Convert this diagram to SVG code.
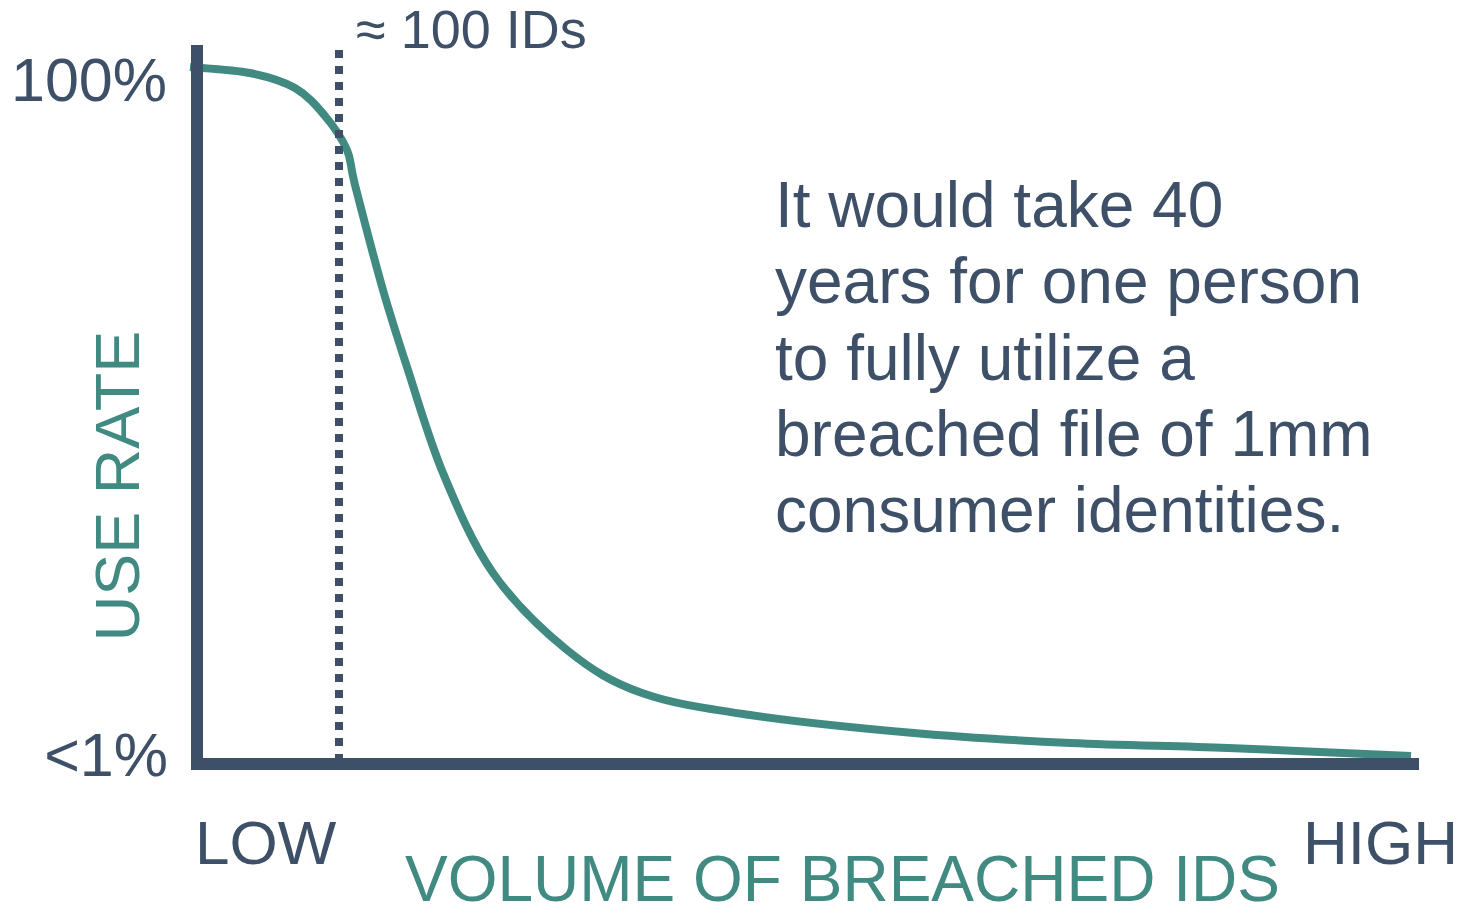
<svg xmlns="http://www.w3.org/2000/svg" width="1464" height="914" viewBox="0 0 1464 914">
<style>
.t{font-family:"Liberation Sans",Arial,sans-serif;fill:#3e5068}
.g{font-family:"Liberation Sans",Arial,sans-serif;fill:#408a82}
</style>
<rect width="1464" height="914" fill="#fff"/>
<g id="connectors">
<path id="curve" fill="none" stroke="#408a82" stroke-width="8" stroke-linejoin="round" d="M190,67 C200,68 232.5,69.5 250,73 C267.5,76.5 282.5,80.8 295,88 C307.5,95.2 316.3,105.7 325,116 C333.7,126.3 342,138.5 347,150 C352,161.5 349,161.7 355,185 C361,208.3 374.3,259.7 383,290 C391.7,320.3 397,336.5 407,367 C417,397.5 428.7,438.7 443,473 C457.3,507.3 472.3,543.5 493,573 C513.7,602.5 542.2,630 567,650 C591.8,670 611.5,682.2 642,693 C672.5,703.8 704.7,708.3 750,715 C795.3,721.7 860.5,728.3 914,733 C967.5,737.7 1018.7,740.5 1071,743 C1123.3,745.5 1171.3,745.8 1228,748 C1284.7,750.2 1380.5,754.7 1411,756"/>
<line id="marker100" x1="339" y1="50" x2="339" y2="758" stroke="#3e5068" stroke-width="8" stroke-dasharray="8 8"/>
<path id="axes" d="M197,45 V764 H1419" fill="none" stroke="#3e5068" stroke-width="12" stroke-linejoin="miter"/>
</g>
<g id="labels">
<text class="t" x="356" y="48" font-size="54">≈ 100 IDs</text>
<text class="t" x="167" y="101" font-size="61" text-anchor="end">100%</text>
<text class="t" x="168" y="776" font-size="61" text-anchor="end">&lt;1%</text>
<text class="t" x="195" y="864" font-size="62">LOW</text>
<text class="t" x="1458" y="864" font-size="62" text-anchor="end">HIGH</text>
<text class="g" x="405" y="901" font-size="64">VOLUME OF BREACHED IDS</text>
<text class="g" transform="translate(139,486) rotate(-90)" font-size="63" text-anchor="middle">USE RATE</text>
</g>
<g id="note">
<text class="t" font-size="64">
<tspan x="775" y="227">It would take 40</tspan>
<tspan x="775" y="303">years for one person</tspan>
<tspan x="775" y="380">to fully utilize a</tspan>
<tspan x="775" y="456">breached file of 1mm</tspan>
<tspan x="775" y="532">consumer identities.</tspan>
</text>
</g>
</svg>
